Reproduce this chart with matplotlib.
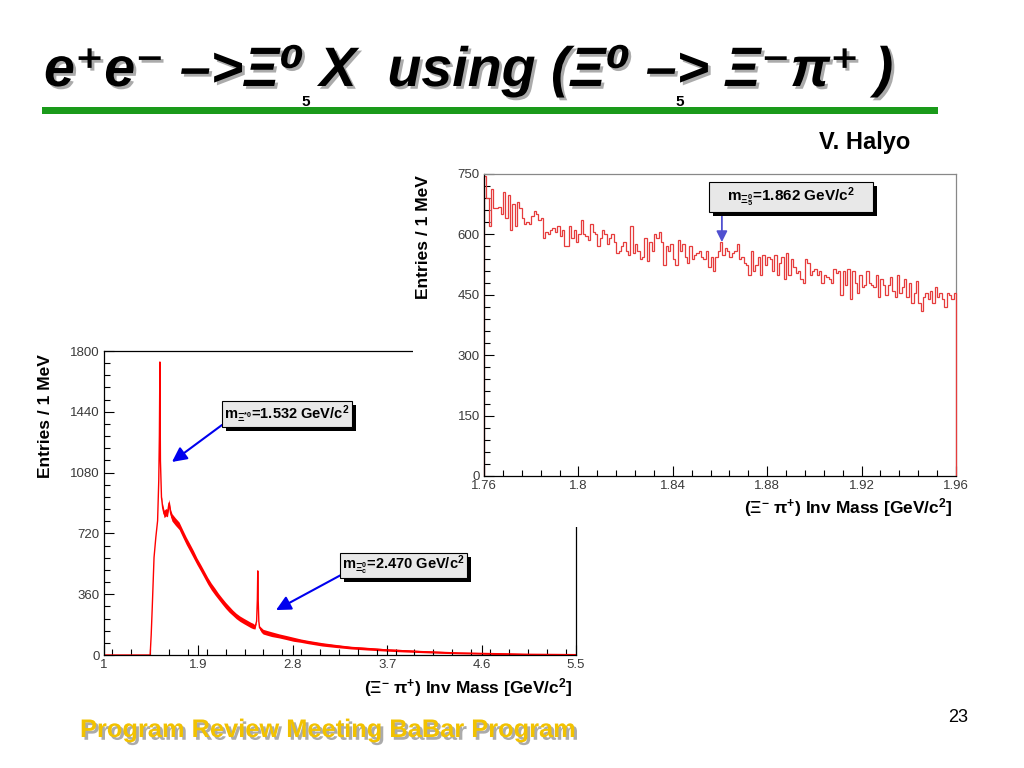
import numpy as np
import matplotlib
matplotlib.use('Agg')
from matplotlib import pyplot as plt
from matplotlib.patches import Rectangle
from matplotlib import patheffects as pe
from matplotlib.ticker import MultipleLocator

plt.rcParams['font.family'] = ['Liberation Sans', 'DejaVu Sans']
plt.rcParams['mathtext.default'] = 'regular'

# lower-left: full Xi- pi+ mass spectrum
left_mass = [1.00, 1.44, 1.45, 1.46, 1.477, 1.494, 1.511, 1.522, 1.528, 1.533,
             1.538, 1.548, 1.56, 1.573, 1.59, 1.605, 1.62, 1.635, 1.648, 1.68,
             1.716, 1.75, 1.784, 1.818, 1.852, 1.886, 1.92, 1.955, 1.989, 2.023,
             2.057, 2.091, 2.125, 2.159, 2.193, 2.227, 2.26, 2.295, 2.33, 2.364,
             2.398, 2.42, 2.44, 2.455, 2.462, 2.466, 2.470, 2.476, 2.483, 2.50,
             2.517, 2.56, 2.60, 2.67, 2.74, 2.807, 2.875, 2.943, 3.08, 3.216,
             3.35, 3.52, 3.69, 3.86, 4.03, 4.2, 4.375, 4.55, 4.716, 4.9,
             5.06, 5.3, 5.5]
left_counts = [0, 0, 120, 281, 577, 696, 795, 1032, 1300, 1735,
               1150, 934, 870, 835, 845, 840, 900, 840, 815, 790,
               765, 720, 676, 637, 597, 555, 518, 478, 439, 405,
               376, 347, 320, 294, 271, 250, 231, 215, 202, 190,
               178, 172, 166, 200, 330, 498, 330, 200, 162, 148,
               138, 130, 123, 113, 103, 93, 85, 77, 63, 53,
               44, 37, 30, 25, 20, 16, 12, 10, 8, 6,
               4, 3, 2]
# half width of the noisy band around the curve
left_spread = [0, 0, 0, 0, 0, 0, 0, 0, 0, 0,
               0, 5, 20, 22, 22, 22, 22, 22, 22, 22,
               22, 22, 22, 22, 22, 20, 20, 20, 20, 20,
               20, 18, 18, 18, 18, 16, 16, 16, 16, 16,
               16, 16, 12, 0, 0, 0, 0, 0, 10, 14,
               14, 14, 14, 12, 12, 12, 10, 10, 10, 9,
               8, 8, 7, 7, 6, 6, 5, 5, 5, 4,
               4, 3, 3]

# upper-right: zoom 1.76 - 1.96 GeV, 1 MeV bins
right_lo, right_hi = 1.76, 1.96
right_counts = [
    745, 690, 620, 712, 665, 665, 668, 650, 705, 640,
    698, 612, 675, 620, 680, 665, 640, 625, 630, 625,
    645, 658, 650, 635, 640, 590, 605, 600, 610, 615,
    605, 620, 595, 610, 570, 570, 620, 590, 610, 580,
    600, 635, 600, 595, 585, 625, 605, 600, 570, 590,
    610, 600, 575, 590, 600, 580, 555, 560, 570, 580,
    560, 550, 620, 555, 575, 560, 540, 545, 590, 535,
    580, 560, 600, 590, 605, 580, 525, 570, 560, 575,
    540, 525, 585, 560, 575, 545, 530, 570, 540, 550,
    555, 560, 545, 540, 560, 520, 545, 510, 545, 560,
    580, 550, 565, 560, 545, 555, 560, 575, 540, 545,
    530, 525, 500, 560, 510, 525, 545, 500, 550, 525,
    545, 540, 510, 550, 500, 530, 545, 490, 555, 500,
    540, 520, 505, 510, 490, 480, 540, 530, 500, 510,
    515, 500, 510, 480, 500, 495, 490, 480, 515, 505,
    510, 450, 510, 475, 515, 440, 510, 480, 455, 500,
    470, 475, 510, 480, 475, 470, 500, 445, 490, 475,
    450, 475, 495, 460, 445, 500, 455, 470, 490, 445,
    480, 430, 455, 485, 430, 410, 445, 455, 440, 460,
    430, 470, 445, 455, 440, 420, 455, 450, 440, 455]

peak_labels = [r'm$_{\Xi^{*0}}$=1.532 GeV/c$^{2}$',
               r'm$_{\Xi_{c}^{0}}$=2.470 GeV/c$^{2}$',
               r'm$_{\Xi_{5}^{0}}$=1.862 GeV/c$^{2}$']
xlabel = r'($\Xi^{-}$ $\pi^{+}$) Inv Mass [GeV/c$^{2}$]'
ylabel = 'Entries / 1 MeV'

W, H = 1024, 768
fig = plt.figure(figsize=(W / 100, H / 100), dpi=100)


def box(x0, y0, x1, y1):
    # pixel box (top-left origin) -> figure fraction rect
    return [x0 / W, 1 - y1 / H, (x1 - x0) / W, (y1 - y0) / H]


def fx(x, y):
    return x / W, 1 - y / H


def root_axes(ax):
    ax.tick_params(which='both', direction='in', top=False, right=False,
                   labelsize=9.5, labelcolor='#3a3a3a', pad=3)
    ax.tick_params(which='major', length=7, width=0.8)
    ax.tick_params(which='minor', length=4, width=0.8)
    for s in ax.spines.values():
        s.set_linewidth(0.9)


# ---- left plot
axl = fig.add_axes(box(104, 351, 576, 655), zorder=0)
axl.fill_between(left_mass, np.array(left_counts) - np.array(left_spread),
                 np.array(left_counts) + np.array(left_spread),
                 color='red', lw=0)
axl.plot(left_mass, left_counts, color='red', lw=1.0)
axl.set_xlim(1, 5.5)
axl.set_ylim(0, 1800)
axl.xaxis.set_minor_locator(MultipleLocator(0.18))
axl.yaxis.set_major_locator(MultipleLocator(360))
axl.yaxis.set_minor_locator(MultipleLocator(72))
axl.set_xticks([1, 1.9, 2.8, 3.7, 4.6, 5.5])
axl.set_xticklabels(['1', '1.9', '2.8', '3.7', '4.6', '5.5'])
root_axes(axl)

axl.annotate('', xy=(1.648, 1143), xytext=(2.125, 1362),
             arrowprops=dict(arrowstyle='-|>', color='#0000ee', lw=1.5,
                             mutation_scale=22, shrinkA=0, shrinkB=0))
axl.annotate('', xy=(2.64, 266), xytext=(3.26, 474),
             arrowprops=dict(arrowstyle='-|>', color='#0000ee', lw=1.5,
                             mutation_scale=22, shrinkA=0, shrinkB=0))

# white cover behind the second plot (it sits on top of the first one)
fig.patches.append(Rectangle(fx(413, 527), 560 / W, 367 / H, transform=fig.transFigure,
                             facecolor='white', edgecolor='none', zorder=1))

# ---- right plot
axr = fig.add_axes(box(484, 174, 956, 476), zorder=2)
edges = np.linspace(right_lo, right_hi, len(right_counts) + 1)
axr.stairs(right_counts, edges, baseline=0, color='#e63c3c', lw=0.9, zorder=2,
           clip_on=False)
axr.set_xlim(right_lo, right_hi)
axr.set_ylim(0, 750)
axr.xaxis.set_minor_locator(MultipleLocator(0.008))
axr.yaxis.set_major_locator(MultipleLocator(150))
axr.yaxis.set_minor_locator(MultipleLocator(30))
axr.set_xticks([1.76, 1.8, 1.84, 1.88, 1.92, 1.96])
axr.set_xticklabels(['1.76', '1.8', '1.84', '1.88', '1.92', '1.96'])
root_axes(axr)
axr.spines['top'].set_color('#888888')
axr.spines['right'].set_color('#888888')
axr.spines['right'].set_zorder(0.5)
axr.annotate('', xy=(1.8608, 581), xytext=(1.8608, 660),
             arrowprops=dict(arrowstyle='-|>', color='#5050d0', lw=1.3,
                             mutation_scale=16, shrinkA=0, shrinkB=0))

# axis titles
fig.text(*fx(45, 354), ylabel, rotation=90, ha='center', va='top', fontsize=12.5,
         fontweight='bold', zorder=3)
fig.text(*fx(424, 175), ylabel, rotation=90, ha='center', va='top', fontsize=12.5,
         fontweight='bold', zorder=3)
fig.text(*fx(573, 688), xlabel, ha='right', va='center', fontsize=12.5,
         fontweight='bold', zorder=3)
fig.text(*fx(953, 508), xlabel, ha='right', va='center', fontsize=12.5,
         fontweight='bold', zorder=3)

# labelled boxes with ROOT-style shadow
for (x0, y0, x1, y1), lab, fs in [((222, 401, 352, 427), peak_labels[0], 10.5),
                                  ((340, 553, 467, 578), peak_labels[1], 10.5),
                                  ((709, 182, 873, 212), peak_labels[2], 11)]:
    fig.patches.append(Rectangle(fx(x0 + 4, y1 + 4), (x1 - x0) / W, (y1 - y0) / H,
                                 transform=fig.transFigure, facecolor='black',
                                 edgecolor='none', zorder=4))
    fig.patches.append(Rectangle(fx(x0, y1), (x1 - x0) / W, (y1 - y0) / H,
                                 transform=fig.transFigure, facecolor='#e8e8e8',
                                 edgecolor='black', lw=0.8, zorder=5))
    fig.text(*fx((x0 + x1) / 2, (y0 + y1) / 2), lab, ha='center', va='center',
             fontsize=fs, fontweight='bold', zorder=6)

# slide decoration
shadow = [pe.SimplePatchShadow(offset=(2, -2), shadow_rgbFace='#888888', alpha=0.7),
          pe.Normal()]
fig.text(*fx(44, 86), 'e\u207ae\u207b \u2013>\u039e\u2070 X  using (\u039e\u2070 \u2013> \u039e\u207b\u03c0\u207a )',
         ha='left', va='baseline', fontsize=40, fontweight='bold', style='italic',
         path_effects=shadow)
fig.text(*fx(306, 102), '5', ha='center', va='center', fontsize=11, fontweight='bold')
fig.text(*fx(680, 102), '5', ha='center', va='center', fontsize=11, fontweight='bold')
fig.patches.append(Rectangle(fx(42, 114), 896 / W, 7 / H, transform=fig.transFigure,
                             facecolor='#1a9a1a', edgecolor='none'))
fig.text(*fx(910, 143), 'V. Halyo', ha='right', va='center', fontsize=17,
         fontweight='bold')
fig.text(*fx(968, 718), '23', ha='right', va='center', fontsize=13)
fig.text(*fx(80, 730), 'Program Review Meeting BaBar Program', ha='left', va='center',
         fontsize=18.3, fontweight='bold', color='#f2c200', path_effects=shadow)

fig.savefig('out.png', dpi=100)
